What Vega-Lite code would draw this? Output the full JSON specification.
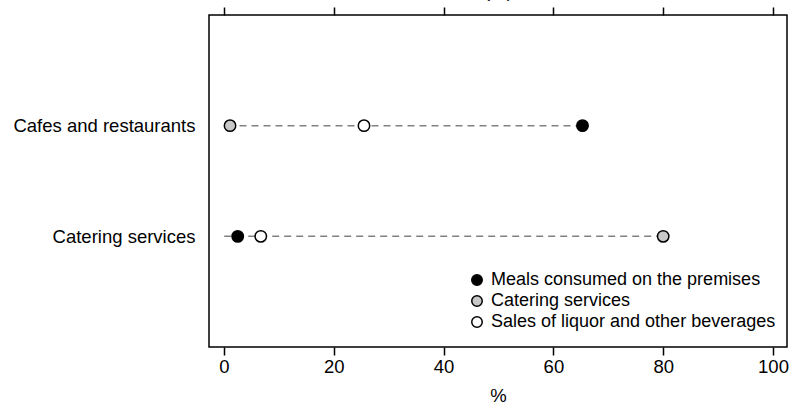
{
  "$schema": "https://vega.github.io/schema/vega-lite/v6.json",
  "autosize": "none",
  "width": 578,
  "height": 332,
  "padding": {"left": 209, "top": 15, "right": 4, "bottom": 58},
  "background": "white",
  "config": {
    "font": "Liberation Sans",
    "view": {"stroke": "black", "strokeWidth": 1.5},
    "axis": {"labelFont": "Liberation Sans", "titleFont": "Liberation Sans", "grid": false, "domain": false, "tickColor": "black", "tickWidth": 1.5, "labelColor": "black", "titleColor": "black", "titleFontWeight": "normal"}
  },
  "data": {
    "values": [
      {"industry": "Cafes and restaurants", "type": "Meals consumed on the premises", "value": 65.3},
      {"industry": "Cafes and restaurants", "type": "Catering services", "value": 1.1},
      {"industry": "Cafes and restaurants", "type": "Sales of liquor and other beverages", "value": 25.5},
      {"industry": "Catering services", "type": "Meals consumed on the premises", "value": 2.5},
      {"industry": "Catering services", "type": "Catering services", "value": 80.0},
      {"industry": "Catering services", "type": "Sales of liquor and other beverages", "value": 6.7}
    ]
  },
  "encoding": {
    "y": {
      "field": "industry", "type": "nominal",
      "scale": {"type": "point", "padding": 1},
      "sort": ["Cafes and restaurants", "Catering services"],
      "axis": {"title": null, "ticks": false, "labelFontSize": 18.5, "labelPadding": 14, "labelLimit": 0}
    }
  },
  "layer": [
    {
      "transform": [{"aggregate": [{"op": "max", "field": "value", "as": "maxv"}], "groupby": ["industry"]}],
      "mark": {"type": "rule", "color": "#808080", "strokeWidth": 1.5, "strokeDash": [7, 5]},
      "encoding": {
        "x": {"field": "maxv", "type": "quantitative", "scale": {"domain": [-2.73, 102.55], "nice": false, "zero": false},
          "axis": {"orient": "top", "values": [0, 20, 40, 60, 80, 100], "labels": false, "tickSize": 8, "title": "(%)", "titleFontSize": 18.5, "titlePadding": 6}},
        "x2": {"datum": 0}
      }
    },
    {
      "mark": {"type": "point", "filled": false, "shape": "circle", "size": 130, "stroke": "black", "strokeWidth": 1.5, "opacity": 1},
      "encoding": {
        "x": {
          "field": "value", "type": "quantitative",
          "axis": {"values": [0, 20, 40, 60, 80, 100], "title": "%", "tickSize": 8, "labelFontSize": 18.5, "titleFontSize": 18.5, "labelPadding": 2, "titlePadding": 11}
        },
        "fill": {
          "field": "type", "type": "nominal",
          "scale": {"domain": ["Meals consumed on the premises", "Catering services", "Sales of liquor and other beverages"], "range": ["black", "#c8c8c8", "white"]},
          "legend": {
            "title": null, "orient": "none", "legendX": 259, "legendY": 256,
            "symbolType": "circle", "symbolSize": 110, "symbolStrokeColor": "black", "symbolStrokeWidth": 1.5,
            "labelFontSize": 18, "labelColor": "black", "rowPadding": 3, "labelOffset": 5, "labelLimit": 0
          }
        }
      }
    }
  ],
  "resolve": {"axis": {"x": "independent"}}
}
